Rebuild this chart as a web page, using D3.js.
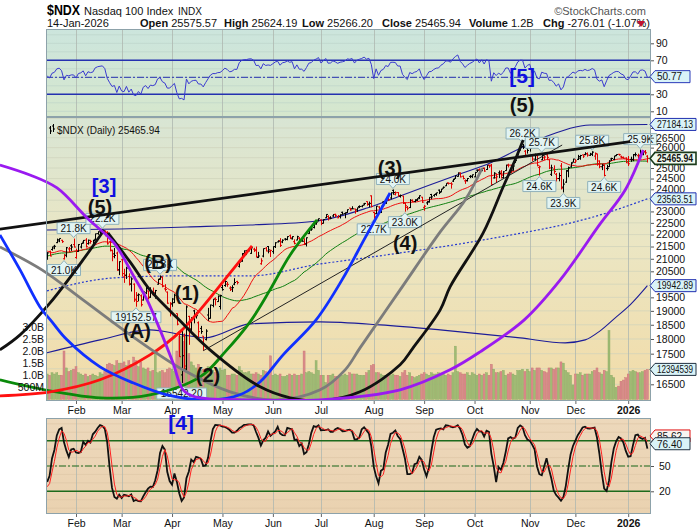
<!DOCTYPE html>
<html><head><meta charset="utf-8">
<script src="https://cdn.jsdelivr.net/npm/d3@7/dist/d3.min.js"></script>
<style>
body{margin:0;background:#fff;}
svg text{font-family:"Liberation Sans",Arial,sans-serif;}
</style></head><body>
<svg id="c" width="700" height="530"></svg>
<script>
// ---------- DATA ----------
const tickLabels = ["Feb","Mar","Apr","May","Jun","Jul","Aug","Sep","Oct","Nov","Dec","2026"];
const tickIdx    = [0,19,40,61,82,102,124,145,166,189,208,230];   // trading-day index (Feb 3 2025 = 0)
const firstIdx = -12; // Jan 15 2025

// closes before the chart window (warm-up for indicators), Nov 1 2024 .. Jan 14 2025
const priorClose = [20033,19993,20240,20786,21102,21118,21072,21036,20974,20812,20394,20530,20667,20667,20740,20776,20832,20923,20767,20930,
 21164,21192,21474,21425,21622,21455,21374,21780,21622,21780,22097,21937,21209,21111,21290,21501,21798,21777,21490,21202,21012,
 20975,21326,21550,21171,21190,20847,20830,20757];
const priorHigh = [21380,21510,21800,21830,21690,21370,21290,21250,21360,21690,21640,21260,21140,20860,20970];
const priorLow  = [20680,21180,21560,21640,21300,21040,20970,20870,21000,21460,21100,20980,20720,20540,20670];

const open = [
 21020,21300,21380,21510,21660,21730,21760,21000,21150,21400,21530,21580,
 21050,21300,21480,21680,21770,21620,21650,21500,21800,22040,22160,22120,22150,22100,21700,21330,21200,21230,20560,
 20960,20280,20350,20300,20000,20000,19400,19580,19560,19400,19670,19740,19510,19600,19560,20000,20210,20270,19820,19700,19080,
 19250,19300,18900,18240,16800,18100,16990,18800,18350,19000,18800,18570,18370,18100,17980,18850,18730,19200,19460,19340,19160,
 19870,19950,20000,19850,19860,20000,20100,20700,20900,21210,21220,21370,21220,21390,21330,21050,20800,21110,21430,21500,21300,
 21290,21500,21690,21750,21690,21810,21800,21950,21820,21700,21770,21850,21730,21820,21600,22040,22240,22300,22480,22620,
 22630,22480,22720,22780,22720,22800,22870,22720,22770,22960,22910,22950,23150,23120,23110,23070,23220,23230,23330,23440,23330,23700,
 22950,22900,23200,22960,23420,23360,23600,23600,23950,23770,23850,23680,23690,23360,23180,23170,23480,23440,23490,23620,23640,
 23180,23380,23440,23760,23720,23790,23960,23890,24050,24160,24300,24270,24380,24510,24600,24760,24610,24390,24410,24600,24590,
 24580,24900,24920,24880,25000,24930,25140,25140,24530,24540,24770,24810,24540,24880,25140,25140,24900,25270,25630,25870,26060,25820,25960,
 26130,25600,25430,25600,25030,25400,25500,25640,25400,24700,24950,24700,24500,25100,24100,24330,24850,25050,25280,
 25270,25420,25480,25640,25660,25700,25620,25680,25580,25680,25340,25060,25160,24980,25070,25440,25420,25600,25670,25540,25510,25480,
 25430,25420,25420,25660,25600,25620,25660,25800,25575.57];
const high = [
 21270,21330,21500,21570,21830,21840,21780,21190,21480,21480,21600,21830,
 21410,21600,21640,21770,21850,21790,21780,21780,22040,22140,22170,22222,22170,22140,21750,21370,21440,21290,20900,
 21000,20600,20680,20420,20260,20030,19700,19650,19610,19720,19900,19750,19880,19870,19780,20210,20340,20300,20000,19720,19320,
 19470,19640,18900,18250,18370,18190,19200,18820,18770,19040,18960,18620,18460,18100,18340,19110,19230,19440,19500,19570,19600,
 19970,20150,20090,19920,19960,20230,20130,20900,21230,21340,21360,21430,21460,21450,21500,21280,21020,21420,21480,21520,21370,
 21510,21680,21760,21850,21800,21850,21930,22000,21930,21800,21950,21890,21860,21840,21880,22200,22290,22450,22580,22690,
 22650,22650,22880,22830,22790,22880,22900,22840,22870,22990,22960,23090,23150,23230,23120,23170,23270,23280,23380,23450,23440,23720,
 22980,23240,23230,23250,23460,23590,23690,23860,23990,23900,23870,23760,23700,23380,23240,23550,23540,23540,23590,23720,23650,
 23280,23460,23640,23790,23780,23840,23990,24020,24130,24280,24310,24330,24490,24640,24790,24790,24640,24460,24520,24660,24690,
 24810,24930,24980,25010,25020,25140,25160,25200,24800,24750,24880,24900,24850,25160,25210,25160,25110,25390,25830,26050,26182,25880,25990,
 26150,25680,25700,25620,25120,25720,25600,25680,25420,25160,25130,24760,24780,25240,24470,24900,25070,25280,25450,
 25430,25640,25640,25660,25770,25760,25740,25820,25760,25700,25370,25190,25170,25150,25380,25500,25590,25670,25690,25600,25560,25520,
 25580,25550,25680,25760,25700,25900,25860,25880,25624.19];
const low = [
 20960,21100,21330,21390,21640,21680,21650,20970,21060,21270,21320,21460,
 21000,21280,21420,21620,21460,21580,21620,21470,21760,21990,21970,22050,21930,21580,21300,20900,21020,20520,20350,
 20300,20050,20200,19950,19720,19330,19152.57,19350,19160,19380,19620,19420,19480,19560,19450,19980,20170,19880,19720,19260,18800,
 19150,19290,18480,17390,16542.2,16940,16930,17800,18200,18550,18720,18060,18180,17600,17950,18640,18720,19130,19200,19330,19050,
 19750,19900,19900,19740,19700,19960,19990,20650,20880,21160,21150,21300,21200,21280,21050,21030,20760,21060,21300,21220,21070,
 21200,21440,21670,21480,21640,21750,21760,21810,21790,21590,21760,21670,21700,21560,21500,22030,22160,22260,22420,22560,
 22400,22470,22710,22600,22660,22760,22740,22700,22690,22850,22700,22930,23030,23100,22900,22980,23150,23180,23270,23250,23180,23180,
 22675,22890,22920,22930,23200,23340,23480,23540,23750,23720,23660,23620,23330,22990,23050,23150,23420,23410,23470,23550,23380,
 23030,23290,23390,23540,23660,23700,23780,23860,24030,24150,24220,24030,24340,24480,24590,24550,24460,24250,24360,24520,24530,
 24560,24800,24720,24850,24820,24910,25010,24210,24500,24290,24520,24500,24500,24870,25030,24740,24870,25250,25620,25860,25930,25580,25700,
 25800,25330,25330,25080,24640,25380,25380,25380,24950,24620,24720,24360,24370,23990,23854,24300,24560,25020,25270,
 25240,25390,25400,25490,25620,25550,25590,25580,25400,25110,24990,24900,24600,24880,25050,25340,25380,25580,25600,25470,25450,25240,
 25100,25300,25330,25560,25400,25600,25620,25650,25266.2];
const close = [
 21237,21112,21441,21509,21782,21836,21702,21127,21449,21411,21479,21478,
 21297,21580,21627,21756,21491,21760,21714,21748,22032,22114,22150,22175,22067,21614,21353,21087,21133,20550,20884,
 20409,20334,20628,20014,20201,19431,19345,19599,19226,19705,19830,19485,19736,19677,19754,20180,20287,19917,19798,19282,19279,
 19436,19582,18521,17398,17431,17090,19145,18343,18690,18799,18825,18257,18258,17808,18276,18727,19214,19432,19419,19546,19571,
 19791,20103,19994,19792,19867,20064,20061,20868,21196,21320,21336,21427,21447,21367,21083,21113,20915,21414,21315,21363,21341,
 21492,21656,21719,21547,21761,21797,21914,21862,21913,21631,21911,21719,21720,21626,21865,22190,22237,22447,22534,22679,
 22480,22641,22867,22685,22700,22866,22830,22780,22855,22885,22933,23077,23066,23116,22999,23162,23220,23272,23356,23309,23358,23218,
 22763,23234,22950,23228,23302,23563,23521,23839,23849,23840,23713,23714,23385,23252,23142,23498,23445,23525,23565,23703,23415,
 23231,23415,23633,23652,23762,23839,23849,24005,24093,24276,24275,24240,24454,24627,24762,24580,24503,24384,24503,24611,24680,
 24791,24892,24785,24980,24855,25139,25098,24221,24750,24580,24746,24657,24817,25141,25140,24866,25097,25358,25822,26012,26013,25615,25858,
 25972,25435,25620,25130,25059,25612,25533,25517,25006,25008,24834,24503,24640,24054,24240,24877,25018,25237,25435,
 25342,25556,25606,25582,25692,25628,25670,25776,25712,25197,25067,25132,24648,24990,25346,25462,25588,25656,25644,25525,25475,25250,
 25206,25404,25640,25650,25546,25766,25787,25742,25465.94];
const volumeB = [ // billions of shares
 1.05,1.0,1.1,1.05,1.1,1.0,1.0,2.0,1.3,1.15,1.2,1.25,
 1.35,1.1,1.05,1.0,1.05,0.95,1.0,1.05,1.0,0.95,1.1,1.05,1.15,1.45,1.5,1.45,1.4,1.6,1.5,
 1.5,1.55,1.4,1.6,1.45,1.75,1.6,1.35,1.55,1.3,1.25,1.3,1.15,1.2,1.95,1.1,1.15,1.2,1.1,1.25,1.3,
 1.25,1.15,2.0,2.6,2.6,2.4,2.6,1.9,1.55,1.4,1.3,1.45,1.2,1.25,1.1,1.35,1.3,1.2,1.1,1.05,1.3,
 1.2,1.25,1.0,1.0,1.05,1.05,1.0,1.35,1.2,1.1,1.1,1.15,1.05,1.05,1.1,1.05,1.0,1.2,1.15,1.05,1.8,
 1.0,1.05,1.0,1.05,0.95,0.95,1.0,1.05,1.0,1.05,1.0,1.0,1.05,2.0,1.1,1.15,1.1,1.05,1.6,1.2,
 1.0,1.0,0.7,1.0,1.0,1.05,0.95,0.95,0.95,1.0,1.05,1.0,1.1,1.05,1.05,1.05,1.0,1.0,1.0,1.1,1.2,1.4,
 1.45,1.1,1.1,1.05,1.0,1.0,0.95,1.0,1.05,1.0,1.0,0.95,1.1,1.2,1.0,1.1,0.95,0.9,0.95,1.0,1.05,
 1.1,1.05,1.0,1.1,1.05,1.05,1.1,1.05,1.05,1.0,1.05,1.0,1.1,2.2,1.15,1.1,1.05,1.05,1.1,1.0,1.1,
 1.05,1.0,1.05,1.0,1.05,1.1,1.0,1.45,1.25,1.1,1.1,1.15,1.2,1.0,1.05,1.1,1.05,1.0,1.2,1.2,1.25,1.15,1.25,
 1.15,1.3,1.2,1.3,1.3,1.2,1.15,1.1,1.3,1.3,1.25,1.3,1.3,1.55,1.5,1.2,1.1,1.0,0.6,
 1.05,1.05,1.1,1.0,1.05,1.05,1.05,1.15,1.2,1.3,1.1,1.05,1.2,1.15,2.85,1.0,0.9,0.5,0.55,0.75,0.8,0.9,
 1.05,1.15,1.2,1.15,1.1,1.1,1.15,1.2,1.239];

// 200-day MA and Bollinger(200,2) bands: [dayIndex, price]
const ma200   = [[-12.1,19743],[15.8,20243],[42.1,20320],[72.5,20320],[101.7,20794],[114.2,20954],[135,21237],[169.6,21774],[218.3,22845],[238,23563.51]];
const bbUpper = [[-12.1,22196],[18.3,22239],[46.25,22324],[72.5,22410],[100.4,22584],[121.25,23153],[135,23693],[158.75,24668],[172.5,25243],[187.9,26131],[197.5,26638],[214.2,27155],[238,27184.13]];
const bbLower = [[-12.1,17528],[10,17971],[30.8,18319],[44.6,18144],[53.75,18040],[72.5,18532],[101.7,18603],[126.7,18496],[151.7,18319],[185,18040],[203.75,17868],[212.1,17971],[218.3,18284],[224.6,18747],[230.8,19220],[238,19942.89]];

// analyst annotations: arcs (dayIndex, price)
const arcPurple = [[-31.7,25146],[-19.2,24668],[-7.9,24060],[4.6,22713],[15.8,21650],[24.2,20280],[29.6,19405],[35,18319],[40.4,17195],[44.6,16326],[49.6,16107],[72.5,16016],[101.7,16016],[135,16326],[155.8,16965],[168.3,17561],[186.7,18675],[201.7,20165],[218.3,22454],[228.75,23968],[236.25,25881]];
const arcBlue   = [[-31.7,21984],[-23.3,20556],[-15,19145],[-10,18603],[-3.75,17971],[10,17063],[23.75,16547],[37.9,16170],[55.8,16016],[68.3,16170],[76.7,16579],[86.25,17460],[100,18675],[110.8,20165],[120.4,21858],[130.8,23830]];
const arcGray   = [[-31.7,21483],[-14.2,20556],[2.9,19405],[23.75,18075],[44.6,16965],[64.2,16263],[82.9,16016],[101.7,16326],[112.1,16965],[118.3,17697],[135,19781],[151.7,22111],[162.1,23512],[169.2,25002]];
const arcBlack  = [[13.3,22069],[22.5,20874],[30.8,19781],[42.1,18747],[55.8,17629],[76.7,16420],[89.2,16077],[101.7,15985],[118.3,16263],[135,17129],[140.4,17697],[151.7,19037],[155.8,19895],[169.6,22069],[177.9,24107],[182.9,25389],[186.25,26383]];
const arcBlack2 = [[-31.7,17629],[-23.3,18144],[-10.8,19294],[2.9,20954],[11.7,22196]];
const arcRed    = [[-31.7,16139],[-10.8,16263],[10,16643],[30.8,17460],[43.3,18249],[51.7,19037],[64.2,20438],[73.3,21524]];
const arcGreen  = [[-31.7,16643],[-10.8,16295],[10,16077],[30.8,16170],[51.7,16739],[62.1,17561],[72.5,18603],[80.8,19781],[89.2,21156],[100.4,22627]];
const trendThick = [[-31.7,22234],[230.8,26297]];
const trendThin  = [[53,17600],[202.5,26130]];

// high/low labels: [text, dayIndex, position]
const hlLabels = [["21.8K",-1,"a"],["21.0K",-5,"b"],["22.2K",11,"a"],["19152.57",25,"b"],["20.3K",35,"a"],["16542.20",44,"b"],
 ["22.7K",124,"b"],["24.0K",132,"a"],["23.0K",137,"b"],["26.2K",186,"a"],["25.7K",194,"a"],["24.6K",193,"b"],["23.9K",203,"b"],
 ["25.8K",215,"a"],["24.6K",220,"b"],["25.9K",235,"a"]];
// wave labels in main panel: [text, dayIndex, price, colour]
const waveLabels = [["[3]",11.7,24153,"#1010e0"],["(5)",10,23197,"#111"],["(B)",34.2,20874,"#111"],["(1)",46.25,19667,"#111"],
 ["(A)",25.4,18284,"#111"],["(2)",55,16803,"#111"],["(3)",130.8,25000,"#111"],["(4)",137.1,21649,"#111"],["(5)",185.8,28218,"#111"]];
const rsiWave = ["[5]",185.8,52.5];
const stoWave = ["[4]",43.8,101.5];

const lastRsi = 50.77, lastK = 76.40, lastD = 85.62;
const priceTags = [["27184.13",27184.13,"#2030b0",false],["25465.94",25465.94,"#1a3a1a",true],["23563.51",23563.51,"#2030b0",false],["19942.89",19942.89,"#2030b0",false]];
const volTag = ["12394539",1.2394539];

// ---------- LAYOUT ----------
const L=46,R=651;
const RSI=[29,117], MAIN=[117,401], STO=[418,514];
const svg=d3.select("#c");
const defs=svg.append("defs");
function grad(id,stops){const g=defs.append("linearGradient").attr("id",id).attr("x1",0).attr("y1",0).attr("x2",0).attr("y2",1);
 stops.forEach(s=>g.append("stop").attr("offset",s[0]).attr("stop-color",s[1]));}
grad("gRsi",[[0,"#cce5dd"],[1,"#d6e7cd"]]);
grad("gMain",[[0,"#d8e5d4"],[0.45,"#ebe6c3"],[1,"#f2dba7"]]);
grad("gSto",[[0,"#edd8bb"],[1,"#ead2b0"]]);
function clip(id,x,y,w,h){defs.append("clipPath").attr("id",id).append("rect").attr("x",x).attr("y",y).attr("width",w).attr("height",h);}
clip("cMain",L,MAIN[0],R-L,MAIN[1]-MAIN[0]);
clip("cArc",0,MAIN[0],R,MAIN[1]-MAIN[0]);
clip("cRsi",L,RSI[0],R-L,RSI[1]-RSI[0]);
clip("cSto",L,STO[0],R-L,STO[1]-STO[0]);

const xs=d3.scaleLinear().domain([-12.5,239.5]).range([L,R]);
const ys=d3.scaleLog().domain([16500,26500]).range([384.3,137.7]);
const yv=d3.scaleLinear().domain([0,3]).range([399.4,326.8]);
const yr=d3.scaleLinear().domain([30,90]).range([94.3,43.3]);
const yst=d3.scaleLinear().domain([20,80]).range([491.3,440.7]);
const N=close.length;
const idx=d3.range(N).map(i=>i+firstIdx);

// backgrounds
svg.append("rect").attr("x",L).attr("y",RSI[0]).attr("width",R-L).attr("height",RSI[1]-RSI[0]).attr("fill","url(#gRsi)");
svg.append("rect").attr("x",L).attr("y",MAIN[0]).attr("width",R-L).attr("height",MAIN[1]-MAIN[0]).attr("fill","url(#gMain)");
svg.append("rect").attr("x",L).attr("y",STO[0]).attr("width",R-L).attr("height",STO[1]-STO[0]).attr("fill","url(#gSto)");

// gridlines
const grid=svg.append("g");
d3.range(10,101,10).forEach(v=>grid.append("line").attr("x1",L).attr("x2",R).attr("y1",yr(v)).attr("y2",yr(v)).attr("stroke","#b9d0c8").attr("stroke-width",0.6));
d3.range(16000,27600,500).forEach(v=>{const y=ys(v); if(y>MAIN[0]&&y<MAIN[1]) grid.append("line").attr("x1",L).attr("x2",R).attr("y1",y).attr("y2",y).attr("stroke","#cfd3bc").attr("stroke-width",0.7);});
d3.range(0,101,10).forEach(v=>grid.append("line").attr("x1",L).attr("x2",R).attr("y1",yst(v)).attr("y2",yst(v)).attr("stroke","#dcc4a4").attr("stroke-width",0.6));
[RSI,MAIN,STO].forEach(p=>tickIdx.forEach(t=>{const x=Math.round(xs(t))+0.5;
  grid.append("line").attr("x1",x).attr("x2",x).attr("y1",p[0]).attr("y2",p[1]).attr("stroke","#aeb8b0").attr("stroke-width",0.8);}));

// ---------- RSI PANEL ----------
const allC=priorClose.concat(close), off=priorClose.length;
function rsiCalc(n){let g=0,l=0;const out=[];for(let k=1;k<allC.length;k++){const d=allC[k]-allC[k-1];const up=Math.max(d,0),dn=Math.max(-d,0);
 if(k<=n){g+=up/n;l+=dn/n;}else{g=(g*(n-1)+up)/n;l=(l*(n-1)+dn)/n;} if(k>=off) out.push(100-100/(1+g/l));}return out;}
const rsi=rsiCalc(14);
const gR=svg.append("g");
[70,30].forEach(v=>gR.append("line").attr("x1",L).attr("x2",R).attr("y1",yr(v)).attr("y2",yr(v)).attr("stroke","#2530b0").attr("stroke-width",1.4));
gR.append("line").attr("x1",L).attr("x2",R).attr("y1",yr(50)).attr("y2",yr(50)).attr("stroke","#2530b0").attr("stroke-width",1).attr("stroke-dasharray","7,2,2,2");
gR.append("path").datum(rsi).attr("clip-path","url(#cRsi)").attr("fill","none").attr("stroke","#3a3ad0").attr("stroke-width",1)
 .attr("d",d3.line().x((d,i)=>xs(idx[i])).y(d=>yr(d)));
gR.append("text").text(rsiWave[0]).attr("x",xs(rsiWave[1])).attr("y",yr(rsiWave[2])).attr("text-anchor","middle").attr("dominant-baseline","central")
 .attr("font-size",21).attr("font-weight","bold").attr("fill","#1010e0");

// ---------- MAIN PANEL ----------
const gM=svg.append("g").attr("clip-path","url(#cMain)");
// volume
idx.forEach((t,i)=>{const up=i===0?close[0]>=priorClose[off-1]:close[i]>=close[i-1];
 gM.append("rect").attr("x",xs(t)-1).attr("width",2).attr("y",yv(volumeB[i])).attr("height",yv(0)-yv(volumeB[i]))
  .attr("fill",up?"#9fbb74":"#d98b8b").attr("stroke",up?"#88a862":"#c77272").attr("stroke-width",0.4);});
// bands & MAs
const lineD=d3.line().x(d=>xs(d[0])).y(d=>ys(d[1]));
gM.append("path").datum(bbUpper).attr("fill","none").attr("stroke","#1c1c98").attr("stroke-width",1.1).attr("d",lineD.curve(d3.curveMonotoneX));
gM.append("path").datum(bbLower).attr("fill","none").attr("stroke","#1c1c98").attr("stroke-width",1.1).attr("d",lineD.curve(d3.curveMonotoneX));
gM.append("path").datum(ma200).attr("fill","none").attr("stroke","#2438d0").attr("stroke-width",1.2).attr("stroke-dasharray","2,2").attr("d",lineD.curve(d3.curveMonotoneX));
function sma(n){return close.map((c,i)=>d3.mean(allC.slice(off+i-n+1,off+i+1)));}
const ma20=sma(20), ma50=sma(50);
const lineI=d3.line().x((d,i)=>xs(idx[i])).y(d=>ys(d));
gM.append("path").datum(ma50).attr("fill","none").attr("stroke","#108010").attr("stroke-width",1).attr("d",lineI);
gM.append("path").datum(ma20).attr("fill","none").attr("stroke","#ee1010").attr("stroke-width",1).attr("d",lineI);
// OHLC bars
idx.forEach((t,i)=>{const x=Math.round(xs(t))+0.5;const up=i===0?close[0]>=priorClose[off-1]:close[i]>=close[i-1];
 gM.append("path").attr("d",`M${x},${ys(high[i])}V${ys(low[i])}M${x-1.5},${ys(open[i])}H${x}M${x},${ys(close[i])}H${x+1.5}`)
  .attr("stroke",up?"#000":"#e00000").attr("stroke-width",1).attr("fill","none");});

// hi/lo labels
const gLab=svg.append("g");
const iOf=t=>t-firstIdx;
hlLabels.forEach(([t,d,pos])=>{const x=xs(d);const w=t.length*5.6+5,h=11;let p,by;
 if(pos==="a"){const tip=ys(high[iOf(d)])-1;by=tip-4-h;p=`M${x-w/2},${by}h${w}v${h}H${x+3.5}L${x},${tip}L${x-3.5},${by+h}H${x-w/2}Z`;}
 else{const tip=ys(low[iOf(d)])+1;by=tip+4;p=`M${x-w/2},${by}H${x-3.5}L${x},${tip}L${x+3.5},${by}H${x+w/2}v${h}H${x-w/2}Z`;}
 gLab.append("path").attr("d",p).attr("fill","#e2f4f3").attr("stroke","#8fb1bb").attr("stroke-width",1);
 gLab.append("text").text(t).attr("x",x).attr("y",by+h/2+3.6).attr("text-anchor","middle").attr("font-size",10).attr("fill","#111");});

// trendlines and arcs
const gA=svg.append("g").attr("clip-path","url(#cArc)");
const lin=d3.line().x(d=>xs(d[0])).y(d=>ys(d[1]));
gA.append("path").datum(trendThin).attr("d",lin).attr("stroke","#222").attr("stroke-width",1).attr("fill","none");
gA.append("path").datum(trendThick).attr("d",lin).attr("stroke","#111").attr("stroke-width",2.8).attr("fill","none");
const arcLine=d3.line().x(d=>xs(d[0])).y(d=>ys(d[1])).curve(d3.curveCatmullRom.alpha(0.5));
[[arcGreen,"#0a8a0a"],[arcRed,"#ff1010"],[arcBlack2,"#111"],[arcGray,"#7c7c7c"],[arcBlue,"#1030ff"],[arcBlack,"#111"],[arcPurple,"#9a1af0"]]
 .forEach(([pts,c])=>gA.append("path").datum(pts).attr("d",arcLine).attr("stroke",c).attr("stroke-width",2.8).attr("fill","none"));

// wave labels
waveLabels.forEach(([t,d,p,c])=>svg.append("text").text(t).attr("x",xs(d)).attr("y",ys(p)).attr("text-anchor","middle").attr("dominant-baseline","central")
 .attr("font-size",20).attr("font-weight","bold").attr("fill",c));

// legend
svg.append("path").attr("d","M50.5,126V134M49,128H50.5M50.5,131H52M53.5,124V132M52,126H53.5M53.5,129H55").attr("stroke","#000").attr("fill","none");
svg.append("text").text("$NDX (Daily) 25465.94").attr("x",57).attr("y",134).attr("font-size",10).attr("fill","#111");

// ---------- STOCH PANEL ----------
const sH=priorHigh.concat(high), sLw=priorLow.concat(low), sC=priorClose.slice(-priorHigh.length).concat(close), so=priorHigh.length;
const fastK=sC.map((c,k)=>{const a=Math.max(0,k-13);const hh=d3.max(sH.slice(a,k+1)),ll=d3.min(sLw.slice(a,k+1));return (c-ll)/(hh-ll)*100;});
const slowK=fastK.map((v,k)=>d3.mean(fastK.slice(Math.max(0,k-2),k+1)));
const slowD=slowK.map((v,k)=>d3.mean(slowK.slice(Math.max(0,k-2),k+1)));
const gS=svg.append("g");
[80,20].forEach(v=>gS.append("line").attr("x1",L).attr("x2",R).attr("y1",yst(v)).attr("y2",yst(v)).attr("stroke","#1c6a1c").attr("stroke-width",1.4));
gS.append("line").attr("x1",L).attr("x2",R).attr("y1",yst(50)).attr("y2",yst(50)).attr("stroke","#1c6a1c").attr("stroke-width",1).attr("stroke-dasharray","7,2,2,2");
const stoLine=d3.line().x((d,i)=>xs(idx[i])).y(d=>yst(d));
gS.append("path").datum(slowK.slice(so)).attr("clip-path","url(#cSto)").attr("d",stoLine).attr("stroke","#111").attr("stroke-width",1.8).attr("fill","none");
gS.append("path").datum(slowD.slice(so)).attr("clip-path","url(#cSto)").attr("d",stoLine).attr("stroke","#ff2020").attr("stroke-width",1).attr("fill","none");

// panel borders
[RSI,MAIN,STO].forEach(p=>svg.append("rect").attr("x",L+0.5).attr("y",p[0]+0.5).attr("width",R-L-1).attr("height",p[1]-p[0]-1)
 .attr("fill","none").attr("stroke","#8da2aa").attr("stroke-width",1));

// ---------- AXES ----------
function rightAxis(scale,vals,y0,y1,tags,x0){
 const hide=v=>tags.some(t=>Math.abs(scale(v)-t)<7)||scale(v)<y0+3||scale(v)>y1-3;
 const g=svg.append("g").attr("transform",`translate(${R},0)`).call(d3.axisRight(scale).tickValues(vals.filter(v=>scale(v)>y0&&scale(v)<y1)).tickSize(3)
   .tickFormat(v=>hide(v)?"":d3.format("d")(v)));
 g.select(".domain").remove();
 g.selectAll("line").attr("stroke","#555");
 g.selectAll("text").attr("font-size",10.5).attr("fill","#111").attr("x",x0||5).attr("font-family","Liberation Sans, Arial, sans-serif");
}
rightAxis(yr,[10,30,50,70,90],RSI[0],RSI[1],[yr(lastRsi)]);
rightAxis(ys,d3.range(16500,27100,500),MAIN[0],MAIN[1],priceTags.map(t=>ys(t[1])).concat([yv(volTag[1])]));
rightAxis(yst,[20,50,80],STO[0],STO[1],[yst(lastK),yst(lastD)],8);

// volume axis on left
const gVol=svg.append("g").attr("transform",`translate(${L},0)`).call(d3.axisLeft(yv).tickValues([0.5,1,1.5,2,2.5,3]).tickSize(0)
 .tickFormat(v=>v<1?"500M":d3.format(".1f")(v)+"B"));
gVol.select(".domain").remove();
gVol.selectAll("text").attr("font-size",10.5).attr("fill","#111").attr("x",-2).attr("font-family","Liberation Sans, Arial, sans-serif");

// x axes
function xAxis(y){const g=svg.append("g").attr("transform",`translate(0,${y})`).call(d3.axisBottom(xs).tickValues(tickIdx).tickSize(3)
 .tickFormat((d,i)=>tickLabels[i]));
 g.select(".domain").remove(); g.selectAll("line").attr("stroke","#666");
 g.selectAll("text").attr("font-size",10.5).attr("fill","#111").attr("y",6).attr("font-family","Liberation Sans, Arial, sans-serif")
  .attr("font-weight",(d,i)=>tickLabels[i]==="2026"?"bold":"normal");}
xAxis(MAIN[1]); xAxis(STO[1]);

// stoch wave label drawn after the axis so it sits on top
svg.append("text").text(stoWave[0]).attr("x",xs(stoWave[1])).attr("y",yst(stoWave[2])).attr("text-anchor","middle").attr("dominant-baseline","central")
 .attr("font-size",21).attr("font-weight","bold").attr("fill","#1010e0");

// value tags (fit within the right margin)
function tag(txt,y,stroke,bold,fill){const x=R-1;const right=696;const w=Math.min(txt.length*6+5,right-(x+5));
 svg.append("path").attr("d",`M${x},${y}L${x+5},${y-6}H${x+5+w}V${y+6}H${x+5}Z`).attr("fill",fill||"#d9f3f8").attr("stroke",stroke).attr("stroke-width",bold?1.6:1);
 const t=svg.append("text").text(txt).attr("x",x+7).attr("y",y+3.8).attr("font-size",bold?10.5:10).attr("font-weight",bold?"bold":"normal").attr("fill","#111");
 const nat=t.node().getComputedTextLength(); if(nat>w-5) t.attr("textLength",w-5).attr("lengthAdjust","spacingAndGlyphs");}
tag(d3.format(".2f")(lastRsi),yr(lastRsi),"#2a3ab8");
priceTags.forEach(t=>tag(t[0],ys(t[1]),t[2],t[3],t[3]?"#f2faf0":null));
tag(volTag[0],yv(volTag[1]),"#203040");
tag(d3.format(".2f")(lastD),yst(lastD),"#e01010",false,"#f8f4f0");
tag(d3.format(".2f")(lastK),yst(lastK),"#203040");

// ---------- HEADER ----------
svg.append("text").text("$NDX").attr("x",47).attr("y",15).attr("font-size",14).attr("font-weight","bold").attr("textLength",33).attr("lengthAdjust","spacingAndGlyphs");
svg.append("text").text("Nasdaq 100 Index").attr("x",84).attr("y",15).attr("font-size",11).attr("fill","#111");
svg.append("text").text("INDX").attr("x",178).attr("y",15).attr("font-size",10).attr("fill","#111");
svg.append("text").text("©StockCharts.com").attr("x",646).attr("y",15).attr("font-size",11).attr("fill","#555").attr("text-anchor","end");
svg.append("text").text("14-Jan-2026").attr("x",47).attr("y",27).attr("font-size",11).attr("fill","#111");
const hdr=[["Open","25575.57",140],["High","25624.19",224],["Low","25266.20",302],["Close","25465.94",382],["Volume","1.2B",469],["Chg","-276.01 (-1.07%)",543]];
hdr.forEach(([k,v,x])=>{const t=svg.append("text").attr("x",x).attr("y",27).attr("font-size",11).attr("fill","#111");
 t.append("tspan").text(k).attr("font-weight","bold"); t.append("tspan").text(" "+v);});
svg.append("path").attr("d","M637,21H645L641,27Z").attr("fill","#c01030");
</script>
</body></html>
